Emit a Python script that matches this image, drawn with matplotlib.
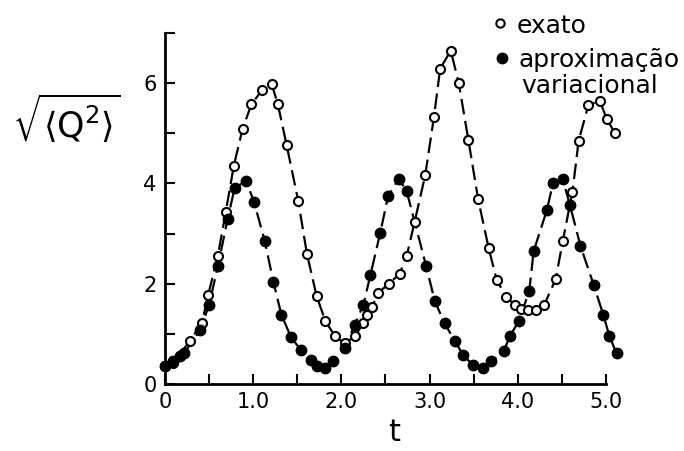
import numpy as np
import matplotlib
matplotlib.use("Agg")
import matplotlib.pyplot as plt

# exact solution (open circles)
t_exato = [0.00, 0.09, 0.28, 0.42, 0.49, 0.60, 0.69, 0.78, 0.88, 0.98, 1.10, 1.21,
           1.28, 1.38, 1.51, 1.61, 1.72, 1.82, 1.93, 2.04, 2.15, 2.25, 2.29, 2.35,
           2.41, 2.54, 2.66, 2.74, 2.83, 2.95, 3.05, 3.12, 3.24, 3.33, 3.44, 3.55,
           3.67, 3.76, 3.87, 3.97, 4.04, 4.12, 4.21, 4.30, 4.43, 4.51, 4.62, 4.69,
           4.80, 4.93, 5.01, 5.10]
q_exato = [0.35, 0.42, 0.85, 1.22, 1.78, 2.56, 3.44, 4.35, 5.09, 5.58, 5.86, 5.98,
           5.58, 4.76, 3.66, 2.59, 1.75, 1.25, 0.95, 0.81, 0.95, 1.21, 1.38, 1.53,
           1.81, 2.00, 2.20, 2.55, 3.23, 4.16, 5.33, 6.29, 6.65, 6.01, 4.87, 3.69,
           2.71, 2.08, 1.73, 1.58, 1.49, 1.48, 1.48, 1.58, 2.09, 2.85, 3.83, 4.85,
           5.56, 5.65, 5.28, 5.01]

# variational approximation (filled circles)
t_var = [0.00, 0.09, 0.17, 0.22, 0.40, 0.50, 0.60, 0.71, 0.79, 0.92, 1.01, 1.13,
         1.23, 1.32, 1.43, 1.54, 1.65, 1.72, 1.81, 1.91, 2.04, 2.15, 2.25, 2.33,
         2.44, 2.53, 2.65, 2.74, 2.96, 3.06, 3.17, 3.29, 3.38, 3.49, 3.61, 3.70,
         3.84, 3.91, 4.01, 4.13, 4.18, 4.33, 4.40, 4.51, 4.59, 4.71, 4.86, 4.97,
         5.04, 5.12]
q_var = [0.35, 0.45, 0.55, 0.62, 1.08, 1.58, 2.35, 3.29, 3.91, 4.05, 3.63, 2.86,
         2.03, 1.38, 0.93, 0.68, 0.47, 0.35, 0.31, 0.45, 0.71, 1.18, 1.58, 2.18,
         3.01, 3.75, 4.09, 3.85, 2.36, 1.65, 1.21, 0.85, 0.58, 0.38, 0.31, 0.45,
         0.65, 0.95, 1.25, 1.85, 2.65, 3.47, 4.01, 4.08, 3.58, 2.76, 1.98, 1.38,
         0.95, 0.61]

x_ticks = np.arange(0, 5.01, 0.5)
x_labels = ["0", "", "1.0", "", "2.0", "", "3.0", "", "4.0", "", "5.0"]
y_ticks = [0, 2, 4, 6]

fig = plt.figure(figsize=(6.84, 4.51), dpi=100)
ax = fig.add_axes([0.2412, 0.1486, 0.6705, 0.778])

dash = (0, (7, 3))
ax.plot(t_exato, q_exato, color="black", lw=1.6, linestyle=dash, clip_on=False)
ax.plot(t_var, q_var, color="black", lw=1.6, linestyle=dash, clip_on=False)
ax.plot(t_exato, q_exato, "o", ms=6.5, mfc="white", mec="black", mew=1.5, clip_on=False)
ax.plot(t_var, q_var, "o", ms=7.5, mfc="black", mec="black", clip_on=False)

ax.set_xlim(0, 5.2)
ax.set_ylim(0, 7)
ax.spines["top"].set_visible(False)
ax.spines["right"].set_visible(False)
ax.spines["bottom"].set_bounds(0, 5)
ax.spines["left"].set_bounds(0, 7)
for s in ["bottom", "left"]:
    ax.spines[s].set_linewidth(2)

ax.set_xticks(x_ticks)
ax.set_xticklabels(x_labels)
ax.set_yticks(y_ticks)
ax.set_yticks([1, 3, 5, 7], minor=True)
ax.tick_params(axis="both", which="both", direction="in", length=7, width=1.5,
               labelsize=15, pad=6)

ax.set_xlabel("t", fontsize=22, labelpad=4)
ax.set_ylabel(r"$\sqrt{\langle \mathrm{Q}^{2} \rangle}$", fontsize=25, rotation=0,
              labelpad=0)
ax.yaxis.set_label_coords(-0.215, 0.68)

# legend drawn as text next to markers
ax.plot([3.80], [7.20], "o", ms=6, mfc="white", mec="black", mew=1.5, clip_on=False)
ax.text(3.99, 7.00, "exato", fontsize=18, va="baseline")
ax.plot([3.82], [6.50], "o", ms=7.5, mfc="black", mec="black", clip_on=False)
ax.text(4.01, 6.32, "aproximação", fontsize=18, va="baseline")
ax.text(4.04, 5.80, "variacional", fontsize=18, va="baseline")

fig.savefig("out.png", dpi=100)
